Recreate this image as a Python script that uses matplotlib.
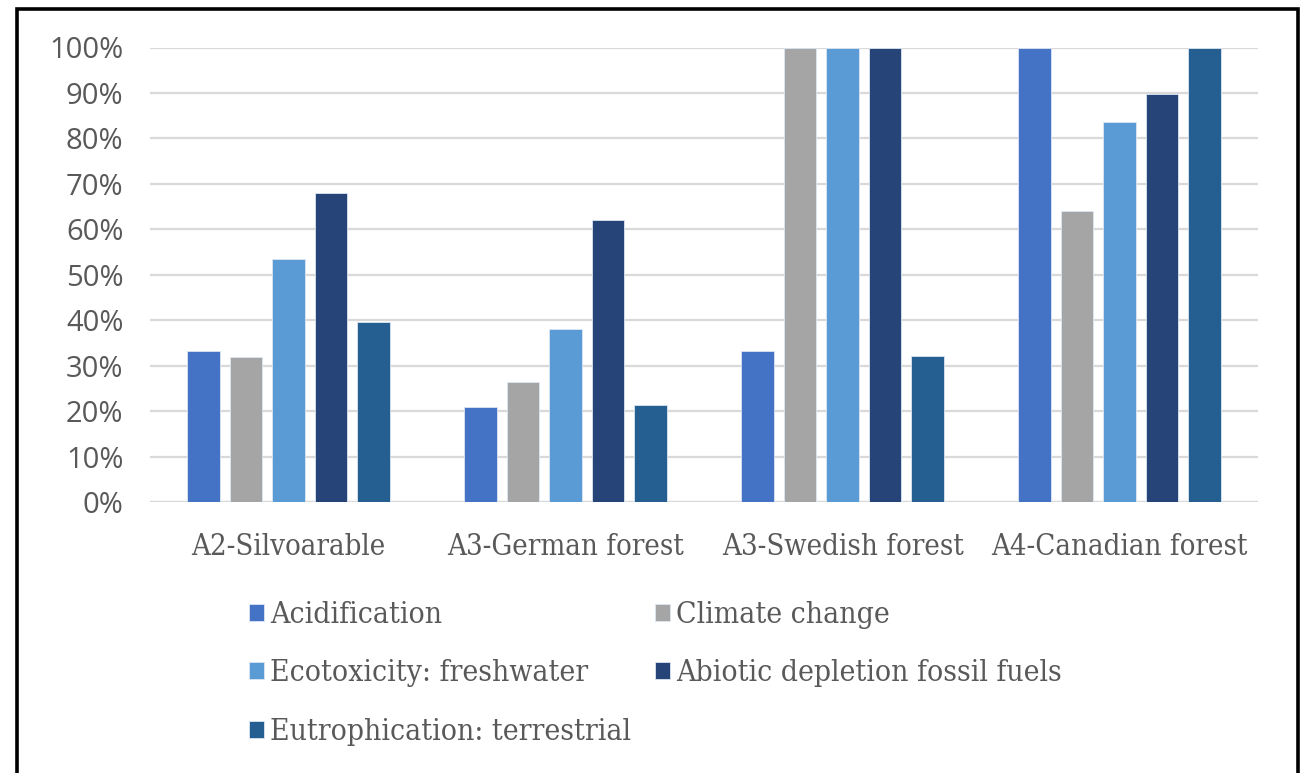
import matplotlib
matplotlib.use("Agg")
import matplotlib.pyplot as plt
import numpy as np
from matplotlib.patches import Rectangle
from matplotlib.ticker import PercentFormatter

categories = ["A2-Silvoarable", "A3-German forest", "A3-Swedish forest", "A4-Canadian forest"]
series_names = ["Acidification", "Climate change", "Ecotoxicity: freshwater",
                "Abiotic depletion fossil fuels", "Eutrophication: terrestrial"]
acidification = [33.3, 20.8, 33.3, 100.0]
climate_change = [32.0, 26.4, 100.0, 64.0]
ecotoxicity = [53.5, 38.0, 100.0, 83.5]
abiotic_depletion = [68.0, 62.0, 100.0, 89.8]
eutrophication = [39.6, 21.3, 32.2, 100.0]
yticks = [0, 10, 20, 30, 40, 50, 60, 70, 80, 90, 100]

values = [acidification, climate_change, ecotoxicity, abiotic_depletion, eutrophication]
colors = ["#4472C4", "#A5A5A5", "#5B9BD5", "#264478", "#255E91"]

serif = ["DejaVu Serif"]
text_gray = "#595959"
label_size = 21
legend_size = 21.5

fig = plt.figure(figsize=(13.02, 7.73), dpi=100)
ax = fig.add_axes([150 / 1302, 1 - 502 / 773, 1108 / 1302, 454.5 / 773])

x = np.arange(len(categories))
step = 0.1534
width = 0.119
handles = []
for i, (name, vals, col) in enumerate(zip(series_names, values, colors)):
    h = ax.bar(x + (i - 2) * step, vals, width=width, color=col,
               edgecolor="#dce6f2", linewidth=0.6, label=name, zorder=3)
    handles.append(h)

ax.set_xlim(-0.5, len(categories) - 0.5)
ax.set_ylim(0, 100)
ax.set_yticks(yticks)
ax.yaxis.set_major_formatter(PercentFormatter(decimals=0))
ax.grid(axis="y", color="#D9D9D9", linewidth=1.6, zorder=0)
for s in ax.spines.values():
    s.set_visible(False)
ax.axhline(0, color="#D9D9D9", linewidth=1.6, zorder=1)
ax.tick_params(axis="both", length=0)
ax.tick_params(axis="y", pad=19, labelsize=21, labelcolor=text_gray)
ax.tick_params(axis="x", pad=22.5, labelcolor=text_gray)
for lbl in ax.get_yticklabels():
    lbl.set_family(["Open Sans"])
ax.set_xticks(x)
ax.set_xticklabels(categories, family=serif, fontsize=label_size, fontstretch="condensed")

order = [0, 2, 4, 1, 3]
leg = fig.legend([handles[i] for i in order], [series_names[i] for i in order],
                 loc="upper left", bbox_to_anchor=(222 / 1302, 1 - 574 / 773),
                 ncol=2, frameon=False, handlelength=0.5, handleheight=0.5,
                 handletextpad=0.2, columnspacing=0.82, labelspacing=1.02,
                 prop={"family": serif, "size": legend_size, "stretch": "condensed"})
for t in leg.get_texts():
    t.set_color(text_gray)

fig.patches.append(Rectangle((17 / 1302, -0.05), 1281 / 1302, 1.05 - 9 / 773,
                             transform=fig.transFigure, fill=False,
                             edgecolor="black", linewidth=2.6))

fig.savefig("out.png", dpi=100)
